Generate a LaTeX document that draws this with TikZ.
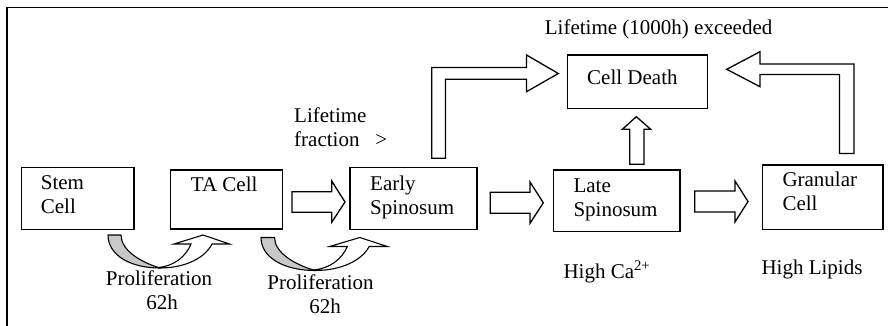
\documentclass[tikz,border=0pt]{standalone}
\usepackage{fontspec}
\setmainfont{Liberation Serif}
\begin{document}
\begin{tikzpicture}[x=1pt,y=-1pt,
  txt/.style={inner sep=0pt, font=\fontsize{21}{24}\selectfont, align=left},
  cellbox/.style={draw, line width=1.6pt, inner sep=0pt, anchor=north west},
  blockarrow/.style={draw, fill=white, line width=1.3pt, line join=miter},
  frameline/.style={line width=1.8pt},
  pics/uturn/.style={code={
    % shaded underside of the curved arrow
    \fill[tailgray, draw=black, line width=1.1pt, line join=round]
      (0,0) .. controls (0,20) and (22,33) .. (52,33)
            .. controls (32,27) and (13,15) .. (13,0) -- cycle;
    % front face with the arrow head
    \draw[fill=white, line width=1.1pt, line join=miter]
      (52,33) .. controls (77,33) and (97,23) .. (104,9)
      -- (121.5,9) -- (95,0) -- (66,9) -- (83,9)
      .. controls (78,21) and (67,31) .. (50,32.5) -- cycle;
  }}]
\definecolor{tailgray}{RGB}{200,200,200}
\useasboundingbox (0,0) rectangle (888,326);

% frame
\draw[frameline] (7,326) -- (7,7.5) -- (888,7.5);

% cell boxes
\node[cellbox, minimum width=112.3pt, minimum height=62pt]   (stem)  at (20.7,166.7) {};
\node[cellbox, minimum width=112pt,   minimum height=59pt]   (ta)    at (169.7,169) {};
\node[cellbox, minimum width=127pt,   minimum height=62pt]   (early) at (349.3,166.7) {};
\node[cellbox, minimum width=140pt,   minimum height=53.7pt] (death) at (566.7,54) {};
\node[cellbox, minimum width=126.3pt, minimum height=61.7pt] (late)  at (552.7,169) {};
\node[cellbox, minimum width=120.6pt, minimum height=64.7pt] (gran)  at (761.7,164) {};

% box texts (base anchor sits on the last line)
\node[txt, anchor=base west] (stemt)  at (40.7,213) {Stem\\Cell};
\node[txt, anchor=base west] (tat)    at (190.7,191.5) {TA Cell};
\node[txt, anchor=base west] (earlyt) at (370,214) {Early\\Spinosum};
\node[txt, anchor=base west] (deatht) at (587,84.7) {Cell Death};
\node[txt, anchor=base west] (latet)  at (573.3,216.3) {Late\\Spinosum};
\node[txt, anchor=base west] (grant)  at (782.3,210.3) {Granular\\Cell};

% annotations
\node[txt, anchor=base west] (frac)   at (294,146.3) {Lifetime\\fraction \ \ >};
\node[txt, anchor=base west] (exceed) at (544.7,34.7) {Lifetime (1000h) exceeded};
\node[txt, anchor=base west] (ca)     at (563.3,278.3) {High Ca\textsuperscript{2+}};
\node[txt, anchor=base west] (lipid)  at (761.3,274) {High Lipids};
\node[txt, anchor=base, align=center] (prolA) at (159,309) {Proliferation\\\hspace*{6pt}62h};
\node[txt, anchor=base, align=center] (prolB) at (320.5,313.5) {Proliferation\\\hspace*{9pt}62h};

% straight block arrows
\draw[blockarrow] (292,191.7) -- (331.7,191.7) -- (331.7,181) -- (345,202)
  -- (331.7,222.3) -- (331.7,212.3) -- (292,212.3) -- cycle;
\draw[blockarrow] (490.3,192.3) -- (530,192.3) -- (530,182) -- (543.3,202.8)
  -- (530,223.3) -- (530,213.3) -- (490.3,213.3) -- cycle;
\draw[blockarrow] (694.7,191) -- (735,191) -- (735,181) -- (748,201.5)
  -- (735,222) -- (735,212) -- (694.7,212) -- cycle;
\draw[blockarrow] (629.7,164.3) -- (629.7,129.3) -- (622.3,129.3) -- (636.3,116.7)
  -- (650.7,129.3) -- (644,129.3) -- (644,164.3) -- cycle;

% bent block arrows into Cell Death
\draw[blockarrow] (431.7,158.3) -- (431.7,67.5) -- (526.5,67.5) -- (526.5,55)
  -- (558.3,73.5) -- (526.5,91.7) -- (526.5,79.3) -- (445.5,79.3)
  -- (445.5,158.3) -- cycle;
\draw[blockarrow] (854,153.5) -- (854,64) -- (760,64) -- (760,51.7)
  -- (726.7,69.3) -- (760,86.7) -- (760,74.5) -- (839.5,74.5)
  -- (839.5,153.5) -- cycle;

% proliferation u-turn arrows
\pic at (108,235) {uturn};
\pic[xscale=1.04] at (261,237.5) {uturn};

\end{tikzpicture}
\end{document}
